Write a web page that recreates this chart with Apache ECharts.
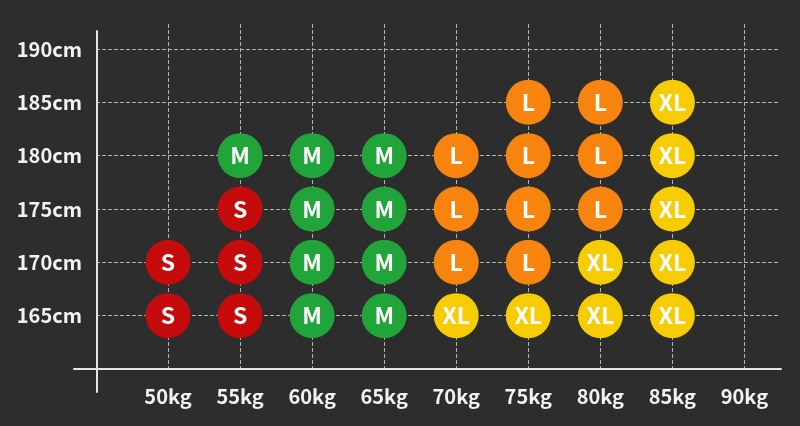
<!DOCTYPE html>
<html>
<head>
<meta charset="utf-8">
<script src="https://cdn.jsdelivr.net/npm/echarts@6.0.0/dist/echarts.min.js"></script>
<style>
  html, body { margin: 0; padding: 0; background: #2d2d2d; }
  #container { width: 800px; height: 426px; }
</style>
</head>
<body>
<div id="container"></div>
<script>
// 体重 / 身高 刻度
var weightTicks = [50, 55, 60, 65, 70, 75, 80, 85, 90];
var heightTicks = [165, 170, 175, 180, 185, 190];

// 每个尺码对应的 [体重kg, 身高cm]
var sizeS = [[50, 165], [55, 165], [50, 170], [55, 170], [55, 175]];
var sizeM = [[60, 165], [65, 165], [60, 170], [65, 170], [60, 175], [65, 175], [55, 180], [60, 180], [65, 180]];
var sizeL = [[70, 170], [75, 170], [70, 175], [75, 175], [80, 175], [70, 180], [75, 180], [80, 180], [75, 185], [80, 185]];
var sizeXL = [[70, 165], [75, 165], [80, 165], [85, 165], [80, 170], [85, 170], [85, 175], [85, 180], [85, 185]];

var sizeNames = ['S', 'M', 'L', 'XL'];
var sizeData = [sizeS, sizeM, sizeL, sizeXL];
var sizeColors = ['#c50b0c', '#21a43a', '#f6840f', '#f6cd05'];

var dom = document.getElementById('container');
var myChart = echarts.init(dom);

var labelFont = {
    color: '#f2f2f2',
    fontSize: 20,
    fontWeight: 'bold',
    fontFamily: '"Noto Sans CJK SC", "Noto Sans", sans-serif'
};

function mkSeries(i) {
    return {
        name: sizeNames[i],
        type: 'scatter',
        xAxisIndex: 0,
        yAxisIndex: 0,
        symbol: 'circle',
        symbolSize: 45,
        itemStyle: { color: sizeColors[i], opacity: 1 },
        label: {
            show: true,
            position: 'inside',
            formatter: sizeNames[i],
            color: '#ffffff',
            fontSize: 23,
            fontWeight: 'bold',
            fontFamily: '"Noto Sans CJK SC", "Noto Sans", sans-serif'
        },
        emphasis: { disabled: true },
        data: sizeData[i]
    };
}

var series = [];
for (var i = 0; i < sizeNames.length; i++) {
    series.push(mkSeries(i));
}

var gridLine = { color: '#b3b3b3', width: 1, type: [4, 2] };

var option = {
    backgroundColor: '#2d2d2d',
    animation: false,
    grid: [
        { left: 96, right: 21, top: 24, bottom: 57 },   // 数据区
        { left: 74, right: 19, top: 24, bottom: 57 },   // 横轴线
        { left: 97, right: 21, top: 31, bottom: 34 }    // 纵轴线
    ],
    xAxis: [
        {
            gridIndex: 0,
            type: 'value',
            min: 45,
            max: 92.4,
            interval: 5,
            axisLine: { show: false },
            axisTick: { show: false },
            splitLine: { show: true, showMinLine: false, showMaxLine: false, lineStyle: gridLine },
            axisLabel: Object.assign({
                margin: 17,
                showMinLabel: false,
                showMaxLabel: false,
                formatter: function (v) {
                    return weightTicks.indexOf(v) >= 0 ? v + 'kg' : '';
                }
            }, labelFont)
        },
        {
            gridIndex: 1,
            type: 'value',
            min: 0,
            max: 1,
            axisLine: { show: true, onZero: false, lineStyle: { color: '#e6e6e6', width: 2 } },
            axisTick: { show: false },
            axisLabel: { show: false },
            splitLine: { show: false }
        },
        {
            gridIndex: 2,
            type: 'value',
            show: false
        }
    ],
    yAxis: [
        {
            gridIndex: 0,
            type: 'value',
            min: 160,
            max: 192.34,
            interval: 5,
            axisLine: { show: false },
            axisTick: { show: false },
            splitLine: { show: true, showMinLine: false, showMaxLine: false, lineStyle: gridLine },
            axisLabel: Object.assign({
                margin: 14,
                showMinLabel: false,
                showMaxLabel: false,
                formatter: function (v) {
                    return heightTicks.indexOf(v) >= 0 ? v + 'cm' : '';
                }
            }, labelFont)
        },
        {
            gridIndex: 1,
            type: 'value',
            show: false
        },
        {
            gridIndex: 2,
            type: 'value',
            min: 0,
            max: 1,
            axisLine: { show: true, onZero: false, lineStyle: { color: '#e6e6e6', width: 2 } },
            axisTick: { show: false },
            axisLabel: { show: false },
            splitLine: { show: false }
        }
    ],
    series: series
};

myChart.setOption(option);
</script>
</body>
</html>
